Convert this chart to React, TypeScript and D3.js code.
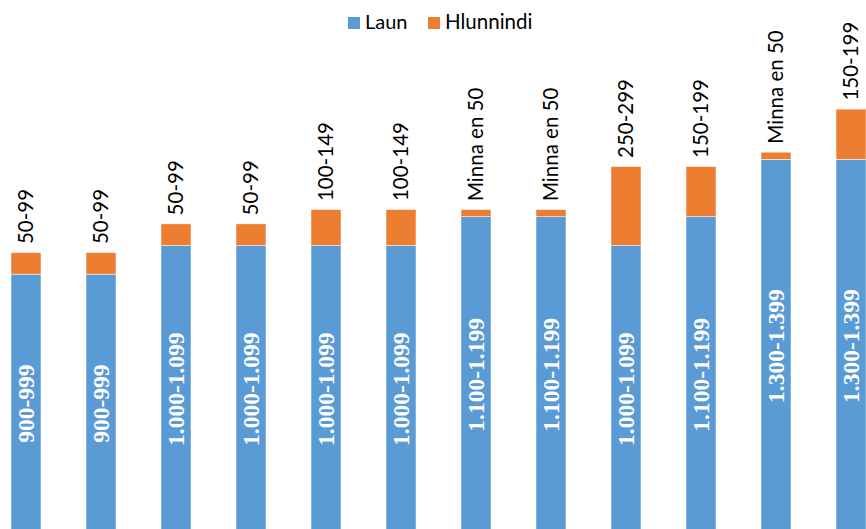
import React from "react";
import * as d3 from "d3";

const categories = ["1", "2", "3", "4", "5", "6", "7", "8", "9", "10", "11", "12"];
const launValues = [950, 950, 1050, 1050, 1050, 1050, 1150, 1150, 1050, 1150, 1350, 1350];
const hlunnindiValues = [75, 75, 75, 75, 125, 125, 25, 25, 275, 175, 25, 175];
const launLabels = ["900-999", "900-999", "1.000-1.099", "1.000-1.099", "1.000-1.099", "1.000-1.099", "1.100-1.199", "1.100-1.199", "1.000-1.099", "1.100-1.199", "1.300-1.399", "1.300-1.399"];
const hlunnindiLabels = ["50-99", "50-99", "50-99", "50-99", "100-149", "100-149", "Minna en 50", "Minna en 50", "250-299", "150-199", "Minna en 50", "150-199"];
const seriesNames = ["Laun", "Hlunnindi"];

const W = 866;
const H = 529;
const BLUE = "#5B9BD5";
const ORANGE = "#ED7D31";

export default function App() {
  const x = d3.scaleBand().domain(categories).range([-11.5, 888.5]).paddingInner(0.6).paddingOuter(0.3);
  const y = d3.scaleLinear().domain([48, 1400]).range([533, 533 - 1352 * 0.287]);
  const bw = x.bandwidth();
  const baseY = y(48);
  const topFont = "Lato, 'Open Sans', sans-serif";

  return (
    <svg width={W} height={H} style={{ position: "absolute", left: 0, top: 0 }}>
      <rect width={W} height={H} fill="#fff" />
      {/* legend */}
      <g>
        <rect x={348} y={17} width={12} height={12} fill={BLUE} />
        <text x={365} y={29} fontFamily={topFont} fontSize={20} fill="#000">{seriesNames[0]}</text>
        <rect x={428} y={17} width={12} height={12} fill={ORANGE} />
        <text x={445} y={29} fontFamily={topFont} fontSize={20.5} fill="#000">{seriesNames[1]}</text>
      </g>
      {categories.map((c, i) => {
        const x0 = x(c)!;
        const cx = x0 + bw / 2;
        const l = launValues[i];
        const h = hlunnindiValues[i];
        const yL = y(l);
        const yT = y(l + h);
        const midBlue = (yL + baseY) / 2;
        return (
          <g key={c}>
            <rect x={x0} y={yL} width={bw} height={baseY - yL} fill={BLUE} stroke="#fff" strokeWidth={0.5} />
            <rect x={x0} y={yT} width={bw} height={yL - yT} fill={ORANGE} stroke="#fff" strokeWidth={0.5} />
            <text
              transform={`translate(${cx},${midBlue}) rotate(-90)`}
              textAnchor="middle"
              dy="0.33em"
              fontFamily="'Liberation Serif', 'Times New Roman', serif"
              fontWeight="bold"
              fontSize={23.5}
              fill="#fff"
            >
              {launLabels[i]}
            </text>
            <text
              transform={`translate(${cx},${yT - 8.5}) rotate(-90)`}
              textAnchor="start"
              dy="0.36em"
              fontFamily={topFont}
              fontSize={20.5}
              fill="#000"
            >
              {hlunnindiLabels[i]}
            </text>
          </g>
        );
      })}
    </svg>
  );
}
